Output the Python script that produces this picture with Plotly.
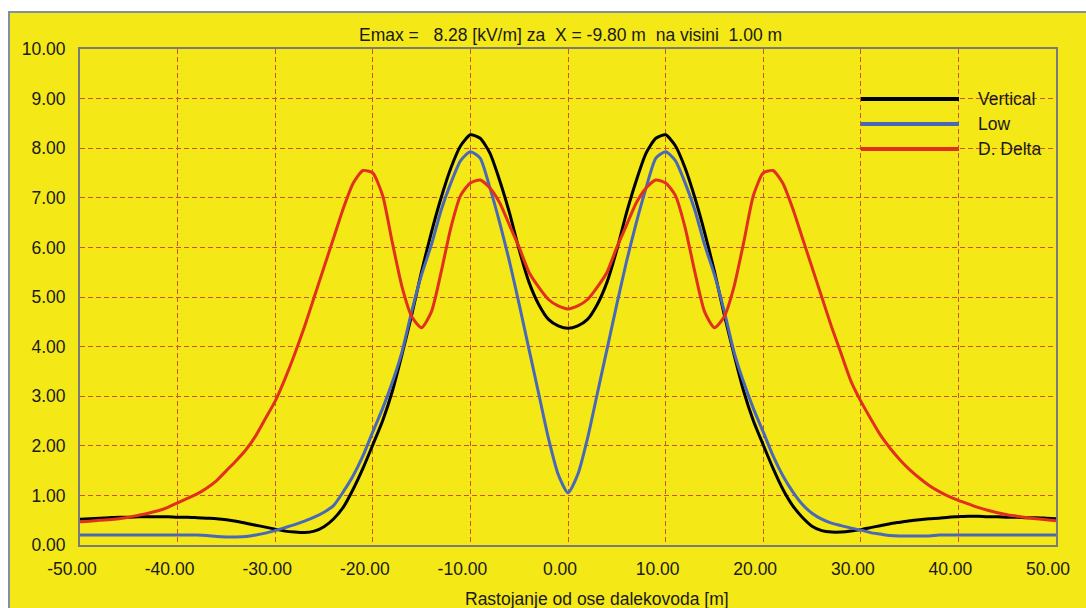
import plotly.graph_objects as go

# Horizontal distance from the line axis [m]
x_pos = list(range(-50, 51))

# Electric field at 1 m height [kV/m] for three tower configurations
e_vertical = [
    0.52, 0.53, 0.54, 0.55, 0.56, 0.56, 0.57, 0.57, 0.57, 0.57,
    0.56, 0.56, 0.55, 0.54, 0.53, 0.51, 0.48, 0.44, 0.40, 0.36,
    0.32, 0.28, 0.26, 0.25, 0.28, 0.37, 0.53, 0.77, 1.13, 1.55,
    2.02, 2.50, 3.10, 3.85, 4.65, 5.52, 6.30, 7.00, 7.60, 8.05,
    8.27, 8.20, 7.90, 7.35, 6.70, 5.95, 5.30, 4.85, 4.55, 4.42,
    4.37,
    4.42, 4.55, 4.85, 5.30, 5.95, 6.70, 7.35, 7.90, 8.20, 8.27,
    8.05, 7.60, 7.00, 6.30, 5.52, 4.65, 3.85, 3.10, 2.50, 2.02,
    1.55, 1.13, 0.80, 0.56, 0.38, 0.29, 0.26, 0.26, 0.28, 0.31,
    0.35, 0.39, 0.43, 0.46, 0.49, 0.51, 0.53, 0.54, 0.56, 0.57,
    0.58, 0.58, 0.57, 0.57, 0.56, 0.56, 0.55, 0.55, 0.54, 0.53,
]

e_low = [
    0.20, 0.20, 0.20, 0.20, 0.20, 0.20, 0.20, 0.20, 0.20, 0.20,
    0.20, 0.20, 0.20, 0.19, 0.17, 0.16, 0.16, 0.17, 0.20, 0.24,
    0.29, 0.35, 0.41, 0.48, 0.56, 0.66, 0.80, 1.08, 1.40, 1.80,
    2.28, 2.75, 3.28, 3.90, 4.72, 5.45, 6.05, 6.75, 7.30, 7.75,
    7.93, 7.80, 7.20, 6.50, 5.72, 4.85, 3.95, 3.05, 2.15, 1.42,
    1.05,
    1.42, 2.15, 3.05, 3.95, 4.85, 5.72, 6.50, 7.20, 7.80, 7.93,
    7.75, 7.30, 6.75, 6.05, 5.45, 4.72, 3.90, 3.28, 2.75, 2.28,
    1.80, 1.40, 1.08, 0.82, 0.64, 0.52, 0.44, 0.39, 0.34, 0.30,
    0.25, 0.22, 0.19, 0.18, 0.18, 0.18, 0.18, 0.20, 0.20, 0.20,
    0.20, 0.20, 0.20, 0.20, 0.20, 0.20, 0.20, 0.20, 0.20, 0.20,
]

e_delta = [
    0.47, 0.48, 0.50, 0.51, 0.53, 0.56, 0.60, 0.64, 0.69, 0.76,
    0.85, 0.94, 1.03, 1.15, 1.30, 1.50, 1.70, 1.92, 2.20, 2.55,
    2.90, 3.35, 3.85, 4.40, 5.00, 5.60, 6.20, 6.80, 7.30, 7.55,
    7.50, 7.05, 6.10, 5.20, 4.60, 4.38, 4.70, 5.50, 6.40, 7.05,
    7.30, 7.36, 7.20, 6.90, 6.45, 6.00, 5.50, 5.20, 4.95, 4.82,
    4.76,
    4.82, 4.95, 5.20, 5.50, 6.00, 6.45, 6.90, 7.20, 7.36, 7.30,
    7.05, 6.40, 5.50, 4.70, 4.38, 4.60, 5.20, 6.10, 7.05, 7.50,
    7.55, 7.30, 6.80, 6.20, 5.60, 5.00, 4.40, 3.85, 3.30, 2.90,
    2.55, 2.22, 1.95, 1.72, 1.52, 1.35, 1.20, 1.08, 0.98, 0.90,
    0.83, 0.76, 0.70, 0.65, 0.61, 0.58, 0.55, 0.53, 0.51, 0.49,
]

series_names = ["Vertical", "Low", "D. Delta"]
series_colors = ["#000000", "#4a68b8", "#e2301e"]

x_ticks = [-50, -40, -30, -20, -10, 0, 10, 20, 30, 40, 50]
x_tick_text = ["-50.00", "-40.00", "-30.00", "-20.00", "-10.00", "0.00",
               "10.00", "20.00", "30.00", "40.00", "50.00"]
y_ticks = [0, 1, 2, 3, 4, 5, 6, 7, 8, 9, 10]
y_tick_text = ["0.00", "1.00", "2.00", "3.00", "4.00", "5.00",
               "6.00", "7.00", "8.00", "9.00", "10.00"]

title_text = ("Emax =\u00a0\u00a0 8.28 [kV/m] za\u00a0 X = -9.80 m\u00a0 "
              "na visini\u00a0 1.00 m")
x_title = "Rastojanje od ose dalekovoda [m]"

W, H = 1086, 608
L, R, T, B = 80, 1056, 49, 545   # plot area edges in pixels
PW, PH = R - L, B - T

def px(xp):
    return (xp - L) / PW

def py(yp):
    return (B - yp) / PH

FONT = "Arial, Liberation Sans, sans-serif"
YELLOW = "#f4e816"
GRID = "#d0502a"
TEXT = "#1a1a1a"

fig = go.Figure()
for name, color, ys in zip(series_names, series_colors,
                           [e_vertical, e_low, e_delta]):
    fig.add_trace(go.Scatter(
        x=x_pos, y=ys, mode="lines", name=name,
        line=dict(color=color, width=3, shape="spline", smoothing=0.6),
        hoverinfo="skip", showlegend=False,
    ))

shapes = [
    # yellow panel behind the whole chart
    dict(type="rect", xref="paper", yref="paper", layer="below",
         x0=px(9), x1=px(W + 10), y0=py(H + 10), y1=py(12),
         fillcolor=YELLOW, line=dict(color="#8090a0", width=2)),
]
annotations = [
    dict(text=title_text, xref="paper", yref="paper", x=0.503, y=py(35),
         xanchor="center", yanchor="middle", showarrow=False,
         font=dict(family=FONT, size=17.5, color=TEXT)),
    dict(text=x_title, xref="paper", yref="paper", x=px(597), y=py(599),
         xanchor="center", yanchor="middle", showarrow=False,
         font=dict(family=FONT, size=17.5, color=TEXT)),
]

# legend: sample line plus label for each series
legend_rows = [99, 124, 149]
for name, color, yrow in zip(series_names, series_colors, legend_rows):
    shapes.append(dict(type="line", xref="paper", yref="paper",
                       x0=px(861), x1=px(959), y0=py(yrow), y1=py(yrow),
                       line=dict(color=color, width=4)))
    annotations.append(dict(text=name, xref="paper", yref="paper",
                            x=px(976), y=py(yrow), xanchor="left",
                            yanchor="middle", showarrow=False,
                            font=dict(family=FONT, size=17.5, color=TEXT)))

axis_common = dict(
    showline=True, mirror=True, linecolor="#7a7a7a", linewidth=2,
    showgrid=True, gridcolor=GRID, gridwidth=1, griddash="5px,3px",
    zeroline=False, ticks="",
    tickfont=dict(family=FONT, size=17.5, color=TEXT),
    fixedrange=True,
)

fig.update_layout(
    width=W, height=H,
    margin=dict(l=L, r=W - R, t=T, b=H - B, pad=0),
    paper_bgcolor="white", plot_bgcolor="rgba(0,0,0,0)",
    showlegend=False,
    shapes=shapes, annotations=annotations,
    xaxis=dict(range=[-50, 50], tickvals=x_ticks, ticktext=x_tick_text,
               ticklabelstandoff=7, ticklabelshift=-8, **axis_common),
    yaxis=dict(range=[0, 10], tickvals=y_ticks, ticktext=y_tick_text,
               ticklabelstandoff=9, **axis_common),
)

fig.write_html("out.html", config={"displayModeBar": False})
